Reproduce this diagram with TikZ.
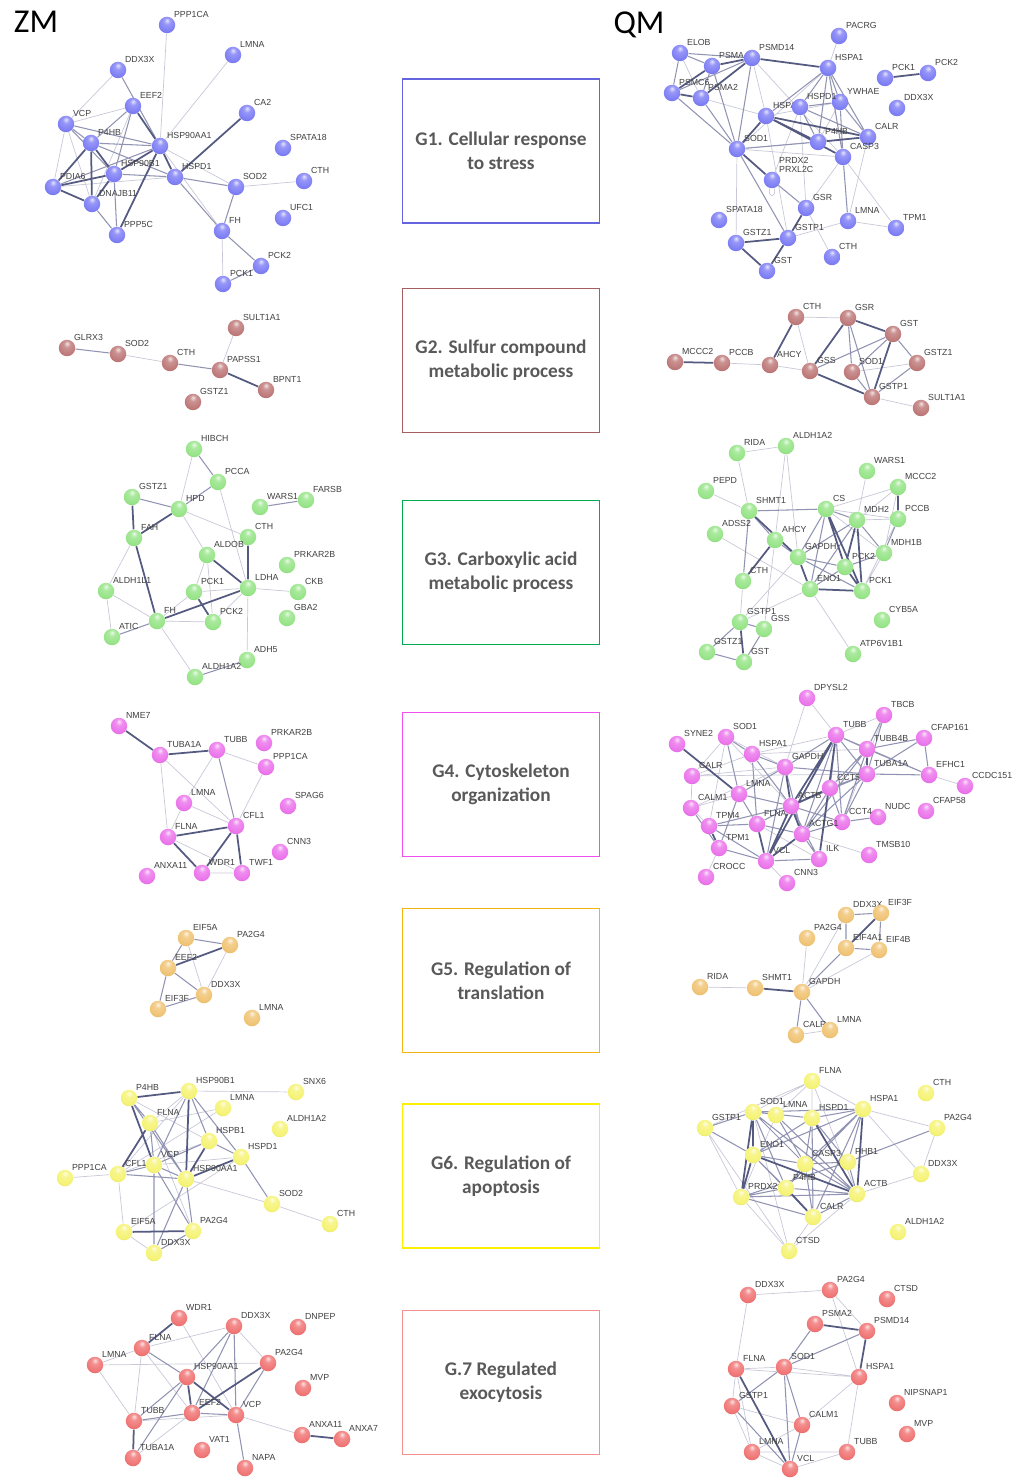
\documentclass[tikz,border=0pt]{standalone}
\usepackage{fontspec}
\newfontfamily\labfont{Liberation Sans}
\newfontfamily\boxfont{Carlito}
\usetikzlibrary{positioning}
\definecolor{c1}{RGB}{125,125,245}
\definecolor{c2}{RGB}{190,120,120}
\definecolor{c3}{RGB}{150,228,135}
\definecolor{c4}{RGB}{235,115,235}
\definecolor{c5}{RGB}{240,195,115}
\definecolor{c6}{RGB}{245,243,115}
\definecolor{c7}{RGB}{240,115,115}
\definecolor{f1}{RGB}{100,100,225}
\definecolor{f2}{RGB}{165,95,95}
\definecolor{f3}{RGB}{0,170,80}
\definecolor{f4}{RGB}{240,80,240}
\definecolor{f5}{RGB}{240,180,20}
\definecolor{f6}{RGB}{250,240,0}
\definecolor{f7}{RGB}{245,145,145}
\definecolor{elight}{RGB}{200,200,216}
\definecolor{emid}{RGB}{145,147,178}
\definecolor{edark}{RGB}{85,90,128}
\definecolor{boxtext}{RGB}{89,89,89}
\makeatletter
\pgfdeclareradialshading[tikz@ball]{sball}{\pgfqpoint{0bp}{14bp}}{%
	color(0bp)=(tikz@ball!20!white);
	color(10bp)=(tikz@ball!80!white);
	color(28bp)=(tikz@ball);
	color(50bp)=(tikz@ball!70!black);
	color(70bp)=(tikz@ball!50!black)}
\makeatother
\pgfdeclarelayer{edges}
\pgfsetlayers{edges,main}

\begin{document}
\begin{tikzpicture}[x=0.02cm, y=-0.02cm,
	ball/.style={circle, minimum size=0.33cm, inner sep=0pt},
	b1/.style={ball, ball color=c1, shading=sball},
	b2/.style={ball, ball color=c2, shading=sball},
	b3/.style={ball, ball color=c3, shading=sball},
	b4/.style={ball, ball color=c4, shading=sball},
	b5/.style={ball, ball color=c5, shading=sball},
	b6/.style={ball, ball color=c6, shading=sball},
	b7/.style={ball, ball color=c7, shading=sball},
	lbl/.style={font=\labfont\fontsize{5}{5.5}\selectfont, text=black!75, inner sep=0.4pt, align=left},
	lab/.style={label={[lbl]45:#1}},
	el/.style={draw=elight, line width=0.4pt},
	em/.style={draw=emid, line width=0.6pt},
	ed/.style={draw=edark, line width=1pt},
	gbox/.style={draw, line width=0.9pt, minimum width=3.94cm, minimum height=2.88cm, align=center, text=boxtext, font=\boxfont\bfseries\fontsize{11}{13.5}\selectfont},
	side/.style={font=\boxfont\fontsize{19}{22}\selectfont, inner sep=0pt}]
	\useasboundingbox (0,0) rectangle (1016,1479);
	% Titles and boxes:
	\node[side] (ZM) at (36,22) {ZM};
	\node[side] (QM) at (639,25) {QM};
	\node[gbox, draw=f1] (G1) at (501,151) {G1. Cellular response\\to stress};
	\node[gbox, draw=f2] (G2) at (501,360.5) {G2. Sulfur compound\\metabolic process};
	\node[gbox, draw=f3] (G3) at (501,572.5) {G3. Carboxylic acid\\metabolic process};
	\node[gbox, draw=f4] (G4) at (501,784.5) {G4. Cytoskeleton\\organization};
	\node[gbox, draw=f5] (G5) at (501,980.5) {G5. Regulation of\\translation};
	\node[gbox, draw=f6] (G6) at (501,1176) {G6. Regulation of\\apoptosis};
	\node[gbox, draw=f7] (G7) at (501,1382.5) {G.7 Regulated\\exocytosis};

	% ZM, G1:
	\node[b1, lab=PPP1CA] (z1-PPP1CA) at (167,25) {};
	\node[b1, lab=LMNA] (z1-LMNA) at (233,55) {};
	\node[b1, lab=DDX3X] (z1-DDX3X) at (118,70) {};
	\node[b1, lab=EEF2] (z1-EEF2) at (133,106) {};
	\node[b1, lab=VCP] (z1-VCP) at (66,124) {};
	\node[b1, lab=CA2] (z1-CA2) at (247,113) {};
	\node[b1, lab=P4HB] (z1-P4HB) at (91,143) {};
	\node[b1, lab=HSP90AA1] (z1-HSP90AA1) at (160,146) {};
	\node[b1, lab=SPATA18] (z1-SPATA18) at (283,148) {};
	\node[b1, lab=HSP90B1] (z1-HSP90B1) at (114,174) {};
	\node[b1, lab=HSPD1] (z1-HSPD1) at (175,177) {};
	\node[b1, lab=PDIA6] (z1-PDIA6) at (53,187) {};
	\node[b1, lab=SOD2] (z1-SOD2) at (236,187) {};
	\node[b1, lab=CTH] (z1-CTH) at (304,181) {};
	\node[b1, lab=DNAJB11] (z1-DNAJB11) at (92,204) {};
	\node[b1, lab=UFC1] (z1-UFC1) at (283,218) {};
	\node[b1, lab=PPP5C] (z1-PPP5C) at (117,235) {};
	\node[b1, lab=FH] (z1-FH) at (222,231) {};
	\node[b1, lab=PCK2] (z1-PCK2) at (261,266) {};
	\node[b1, lab=PCK1] (z1-PCK1) at (223,284) {};
	\begin{pgfonlayer}{edges}
		\draw[el] (z1-PPP1CA) -- (z1-HSP90AA1) (z1-LMNA) -- (z1-HSP90AA1) (z1-DDX3X) -- (z1-VCP) (z1-EEF2) -- (z1-VCP) (z1-EEF2) -- (z1-DNAJB11) (z1-VCP) -- (z1-DNAJB11) (z1-VCP) -- (z1-PDIA6) (z1-HSP90AA1) -- (z1-SOD2) (z1-PDIA6) -- (z1-HSPD1) (z1-SOD2) -- (z1-CTH) (z1-FH) -- (z1-PCK1) (z1-HSP90AA1) -- (z1-FH);
		\draw[em] (z1-DDX3X) -- (z1-HSP90AA1) (z1-EEF2) -- (z1-P4HB) (z1-EEF2) -- (z1-HSP90B1) (z1-VCP) -- (z1-P4HB) (z1-VCP) -- (z1-HSP90AA1) (z1-VCP) -- (z1-HSP90B1) (z1-P4HB) -- (z1-HSP90AA1) (z1-P4HB) -- (z1-HSPD1) (z1-HSP90B1) -- (z1-HSPD1) (z1-HSP90B1) -- (z1-PPP5C) (z1-DNAJB11) -- (z1-PPP5C) (z1-HSPD1) -- (z1-SOD2) (z1-SOD2) -- (z1-FH) (z1-FH) -- (z1-PCK2) (z1-PCK1) -- (z1-PCK2) (z1-HSP90AA1) -- (z1-PDIA6) (z1-HSPD1) -- (z1-FH);
		\draw[ed] (z1-EEF2) -- (z1-HSP90AA1) (z1-P4HB) -- (z1-PDIA6) (z1-P4HB) -- (z1-HSP90B1) (z1-P4HB) -- (z1-DNAJB11) (z1-HSP90AA1) -- (z1-HSP90B1) (z1-HSP90AA1) -- (z1-HSPD1) (z1-HSP90AA1) -- (z1-PPP5C) (z1-CA2) -- (z1-HSPD1) (z1-HSP90B1) -- (z1-PDIA6) (z1-HSP90B1) -- (z1-DNAJB11) (z1-PDIA6) -- (z1-DNAJB11);
	\end{pgfonlayer}

	% QM, G1:
	\node[b1, lab=PACRG] (q1-PACRG) at (839,36) {};
	\node[b1, lab=ELOB] (q1-ELOB) at (680,53) {};
	\node[b1, lab=PSMA4] (q1-PSMA4) at (712,66) {};
	\node[b1, lab=PSMD14] (q1-PSMD14) at (752,58) {};
	\node[b1, lab=HSPA1] (q1-HSPA1) at (828,68) {};
	\node[b1, lab=PCK1] (q1-PCK1) at (885,78) {};
	\node[b1, lab=PCK2] (q1-PCK2) at (928,73) {};
	\node[b1, lab=PSMC6] (q1-PSMC6) at (672,93) {};
	\node[b1, lab=PSMA2] (q1-PSMA2) at (701,98) {};
	\node[b1, lab=YWHAE] (q1-YWHAE) at (840,102) {};
	\node[b1, lab=HSPA8] (q1-HSPA8) at (766,116) {};
	\node[b1, lab=HSPD1] (q1-HSPD1) at (800,107) {};
	\node[b1, lab=DDX3X] (q1-DDX3X) at (897,108) {};
	\node[b1, lab=P4HB] (q1-P4HB) at (818,142) {};
	\node[b1, lab=CALR] (q1-CALR) at (868,137) {};
	\node[b1, lab=SOD1] (q1-SOD1) at (737,149) {};
	\node[b1, lab=CASP3] (q1-CASP3) at (843,157) {};
	\node[b1, lab={PRDX2\\PRXL2C}] (q1-PRDX2) at (772,180) {};
	\node[b1, lab=GSR] (q1-GSR) at (806,208) {};
	\node[b1, lab=SPATA18] (q1-SPATA18) at (719,220) {};
	\node[b1, lab=LMNA] (q1-LMNA) at (848,221) {};
	\node[b1, lab=TPM1] (q1-TPM1) at (896,228) {};
	\node[b1, lab=GSTZ1] (q1-GSTZ1) at (736,243) {};
	\node[b1, lab=GSTP1] (q1-GSTP1) at (788,238) {};
	\node[b1, lab=CTH] (q1-CTH) at (832,257) {};
	\node[b1, lab=GST] (q1-GST) at (767,271) {};
	\begin{pgfonlayer}{edges}
		\draw[el] (q1-PACRG) -- (q1-HSPA1) (q1-ELOB) -- (q1-PSMA2) (q1-PSMA2) -- (q1-HSPA8) (q1-PSMD14) -- (q1-CASP3) (q1-PSMD14) -- (q1-HSPA8) (q1-HSPA1) -- (q1-SOD1) (q1-YWHAE) -- (q1-HSPA8) (q1-HSPA8) -- (q1-GSTP1) (q1-SOD1) -- (q1-GSTZ1) (q1-CASP3) -- (q1-GSR) (q1-CALR) -- (q1-LMNA) (q1-CASP3) -- (q1-TPM1) (q1-GSR) -- (q1-CTH) (q1-GSTP1) -- (q1-LMNA) (q1-LMNA) -- (q1-TPM1) (q1-SOD1) -- (q1-CALR) (q1-HSPD1) -- (q1-GSR) (q1-YWHAE) -- (q1-P4HB) (q1-SOD1) -- (q1-CASP3) (q1-HSPD1) -- (q1-PRDX2);
		\draw[em] (q1-ELOB) -- (q1-PSMA4) (q1-ELOB) -- (q1-PSMD14) (q1-ELOB) -- (q1-PSMC6) (q1-PSMA4) -- (q1-PSMA2) (q1-PSMA4) -- (q1-SOD1) (q1-PSMD14) -- (q1-PSMC6) (q1-PSMD14) -- (q1-SOD1) (q1-PSMC6) -- (q1-SOD1) (q1-PSMA2) -- (q1-SOD1) (q1-HSPA1) -- (q1-HSPA8) (q1-HSPA1) -- (q1-HSPD1) (q1-HSPA1) -- (q1-P4HB) (q1-HSPA1) -- (q1-CASP3) (q1-HSPA1) -- (q1-CALR) (q1-HSPA1) -- (q1-YWHAE) (q1-HSPD1) -- (q1-P4HB) (q1-HSPD1) -- (q1-YWHAE) (q1-HSPD1) -- (q1-CALR) (q1-YWHAE) -- (q1-CASP3) (q1-YWHAE) -- (q1-CALR) (q1-CASP3) -- (q1-LMNA) (q1-SOD1) -- (q1-GSTP1) (q1-SOD1) -- (q1-P4HB) (q1-PRDX2) -- (q1-GSR);
		\draw[ed] (q1-PSMA4) -- (q1-PSMD14) (q1-PSMA4) -- (q1-PSMC6) (q1-PSMC6) -- (q1-PSMA2) (q1-PSMD14) -- (q1-PSMA2) (q1-PSMD14) -- (q1-HSPA1) (q1-HSPA8) -- (q1-SOD1) (q1-HSPA8) -- (q1-P4HB) (q1-HSPA8) -- (q1-CALR) (q1-HSPA8) -- (q1-CASP3) (q1-P4HB) -- (q1-CALR) (q1-SOD1) -- (q1-PRDX2) (q1-GSR) -- (q1-GSTP1) (q1-GSTP1) -- (q1-GSTZ1) (q1-GSTP1) -- (q1-GST) (q1-GSTZ1) -- (q1-GST) (q1-PCK1) -- (q1-PCK2);
		\draw[el] (q1-PRDX2) to[loop below, looseness=6] (q1-PRDX2);
	\end{pgfonlayer}

	% ZM, G2:
	\node[b2, lab=GLRX3] (z2-GLRX3) at (67,348) {};
	\node[b2, lab=SOD2] (z2-SOD2) at (118,354) {};
	\node[b2, lab=CTH] (z2-CTH) at (170,363) {};
	\node[b2, lab=SULT1A1] (z2-SULT1A1) at (236,328) {};
	\node[b2, lab=PAPSS1] (z2-PAPSS1) at (220,370) {};
	\node[b2, lab=BPNT1] (z2-BPNT1) at (266,390) {};
	\node[b2, lab=GSTZ1] (z2-GSTZ1) at (193,402) {};
	\begin{pgfonlayer}{edges}
		\draw[el] (z2-SOD2) -- (z2-CTH) (z2-PAPSS1) -- (z2-SULT1A1);
		\draw[em] (z2-GLRX3) -- (z2-SOD2) (z2-CTH) -- (z2-PAPSS1);
		\draw[ed] (z2-PAPSS1) -- (z2-BPNT1);
	\end{pgfonlayer}

	% QM, G2:
	\node[b2, lab=CTH] (q2-CTH) at (796,317) {};
	\node[b2, lab=GSR] (q2-GSR) at (848,318) {};
	\node[b2, lab=GST] (q2-GST) at (893,334) {};
	\node[b2, lab=MCCC2] (q2-MCCC2) at (675,362) {};
	\node[b2, lab=PCCB] (q2-PCCB) at (722,363) {};
	\node[b2, lab=AHCY] (q2-AHCY) at (770,365) {};
	\node[b2, lab=GSS] (q2-GSS) at (810,371) {};
	\node[b2, lab=SOD1] (q2-SOD1) at (852,372) {};
	\node[b2, lab=GSTZ1] (q2-GSTZ1) at (917,363) {};
	\node[b2, lab=GSTP1] (q2-GSTP1) at (872,397) {};
	\node[b2, lab=SULT1A1] (q2-SULT1A1) at (921,408) {};
	\begin{pgfonlayer}{edges}
		\draw[el] (q2-PCCB) -- (q2-AHCY) (q2-AHCY) -- (q2-GSS) (q2-CTH) -- (q2-GSR) (q2-CTH) -- (q2-GSS) (q2-SOD1) -- (q2-GSTZ1) (q2-GSTP1) -- (q2-SULT1A1);
		\draw[em] (q2-GSR) -- (q2-SOD1) (q2-GSR) -- (q2-GSTP1) (q2-GST) -- (q2-GSS) (q2-GST) -- (q2-GSTZ1) (q2-SOD1) -- (q2-GSTP1) (q2-GSTZ1) -- (q2-GSTP1) (q2-GST) -- (q2-SOD1);
		\draw[ed] (q2-MCCC2) -- (q2-PCCB) (q2-AHCY) -- (q2-CTH) (q2-GSR) -- (q2-GSS) (q2-GSR) -- (q2-GST) (q2-GST) -- (q2-GSTP1) (q2-GSS) -- (q2-GSTP1);
	\end{pgfonlayer}

	% ZM, G3:
	\node[b3, lab=HIBCH] (z3-HIBCH) at (194,449) {};
	\node[b3, lab=PCCA] (z3-PCCA) at (218,482) {};
	\node[b3, lab=GSTZ1] (z3-GSTZ1) at (132,497) {};
	\node[b3, lab=HPD] (z3-HPD) at (179,509) {};
	\node[b3, lab=WARS1] (z3-WARS1) at (260,507) {};
	\node[b3, lab=FARSB] (z3-FARSB) at (306,500) {};
	\node[b3, lab=FAH] (z3-FAH) at (134,538) {};
	\node[b3, lab=CTH] (z3-CTH) at (248,537) {};
	\node[b3, lab=ALDOB] (z3-ALDOB) at (207,555) {};
	\node[b3, lab=PRKAR2B] (z3-PRKAR2B) at (287,565) {};
	\node[b3, lab=ALDH1L1] (z3-ALDH1L1) at (106,591) {};
	\node[b3, lab=PCK1] (z3-PCK1) at (194,592) {};
	\node[b3, lab=LDHA] (z3-LDHA) at (248,588) {};
	\node[b3, lab=CKB] (z3-CKB) at (298,592) {};
	\node[b3, lab=FH] (z3-FH) at (157,621) {};
	\node[b3, lab=PCK2] (z3-PCK2) at (213,622) {};
	\node[b3, lab=GBA2] (z3-GBA2) at (287,618) {};
	\node[b3, lab=ATIC] (z3-ATIC) at (112,637) {};
	\node[b3, lab=ADH5] (z3-ADH5) at (247,660) {};
	\node[b3, lab=ALDH1A2] (z3-ALDH1A2) at (195,677) {};
	\begin{pgfonlayer}{edges}
		\draw[el] (z3-HIBCH) -- (z3-HPD) (z3-PCCA) -- (z3-LDHA) (z3-HPD) -- (z3-CTH) (z3-HPD) -- (z3-ALDOB) (z3-FAH) -- (z3-ALDH1L1) (z3-ALDOB) -- (z3-PCK1) (z3-ALDOB) -- (z3-PCK2) (z3-ALDH1L1) -- (z3-ATIC) (z3-ALDH1L1) -- (z3-FH) (z3-LDHA) -- (z3-PCK2) (z3-LDHA) -- (z3-CKB) (z3-LDHA) -- (z3-ADH5) (z3-FH) -- (z3-PCK2) (z3-FH) -- (z3-ALDH1A2) (z3-FH) -- (z3-PCK1) (z3-PCK1) -- (z3-LDHA);
		\draw[em] (z3-HIBCH) -- (z3-PCCA) (z3-PCCA) -- (z3-HPD) (z3-GSTZ1) -- (z3-HPD) (z3-WARS1) -- (z3-FARSB) (z3-FH) -- (z3-ATIC) (z3-ADH5) -- (z3-ALDH1A2);
		\draw[ed] (z3-GSTZ1) -- (z3-FAH) (z3-HPD) -- (z3-FAH) (z3-FAH) -- (z3-FH) (z3-CTH) -- (z3-LDHA) (z3-ALDOB) -- (z3-LDHA) (z3-PCK1) -- (z3-PCK2) (z3-LDHA) -- (z3-FH);
	\end{pgfonlayer}

	% QM, G3:
	\node[b3, lab=RIDA] (q3-RIDA) at (737,453) {};
	\node[b3, lab=ALDH1A2] (q3-ALDH1A2) at (786,446) {};
	\node[b3, lab=WARS1] (q3-WARS1) at (867,471) {};
	\node[b3, lab=PEPD] (q3-PEPD) at (706,491) {};
	\node[b3, lab=MCCC2] (q3-MCCC2) at (898,487) {};
	\node[b3, lab=SHMT1] (q3-SHMT1) at (749,511) {};
	\node[b3, lab=CS] (q3-CS) at (826,509) {};
	\node[b3, lab=MDH2] (q3-MDH2) at (857,520) {};
	\node[b3, lab=PCCB] (q3-PCCB) at (898,519) {};
	\node[b3, lab=ADSS2] (q3-ADSS2) at (715,534) {};
	\node[b3, lab=AHCY] (q3-AHCY) at (775,540) {};
	\node[b3, lab=GAPDH] (q3-GAPDH) at (798,557) {};
	\node[b3, lab=MDH1B] (q3-MDH1B) at (884,553) {};
	\node[b3, lab=PCK2] (q3-PCK2) at (845,567) {};
	\node[b3, lab=CTH] (q3-CTH) at (743,581) {};
	\node[b3, lab=ENO1] (q3-ENO1) at (810,589) {};
	\node[b3, lab=PCK1] (q3-PCK1) at (862,591) {};
	\node[b3, lab=CYB5A] (q3-CYB5A) at (882,620) {};
	\node[b3, lab=GSTP1] (q3-GSTP1) at (740,622) {};
	\node[b3, lab=GSS] (q3-GSS) at (764,629) {};
	\node[b3, lab=ATP6V1B1] (q3-ATP6V1B1) at (853,654) {};
	\node[b3, lab=GSTZ1] (q3-GSTZ1) at (707,652) {};
	\node[b3, lab=GST] (q3-GST) at (744,662) {};
	\begin{pgfonlayer}{edges}
		\draw[el] (q3-RIDA) -- (q3-ALDH1A2) (q3-RIDA) -- (q3-SHMT1) (q3-PEPD) -- (q3-SHMT1) (q3-ALDH1A2) -- (q3-AHCY) (q3-ALDH1A2) -- (q3-GAPDH) (q3-WARS1) -- (q3-MDH2) (q3-MCCC2) -- (q3-CS) (q3-MCCC2) -- (q3-MDH2) (q3-MCCC2) -- (q3-MDH1B) (q3-CS) -- (q3-PCCB) (q3-CS) -- (q3-MDH1B) (q3-MDH2) -- (q3-PCCB) (q3-PCCB) -- (q3-PCK1) (q3-ADSS2) -- (q3-ENO1) (q3-GAPDH) -- (q3-GSTP1) (q3-ENO1) -- (q3-ATP6V1B1) (q3-ENO1) -- (q3-GSTP1) (q3-CTH) -- (q3-GSTP1) (q3-AHCY) -- (q3-GSS) (q3-MDH1B) -- (q3-PCK1);
		\draw[em] (q3-SHMT1) -- (q3-CS) (q3-SHMT1) -- (q3-AHCY) (q3-SHMT1) -- (q3-CTH) (q3-CS) -- (q3-GAPDH) (q3-CS) -- (q3-ENO1) (q3-CS) -- (q3-MDH2) (q3-MDH2) -- (q3-GAPDH) (q3-MDH2) -- (q3-ENO1) (q3-MDH2) -- (q3-MDH1B) (q3-PCCB) -- (q3-MDH1B) (q3-AHCY) -- (q3-GAPDH) (q3-GAPDH) -- (q3-PCK2) (q3-GAPDH) -- (q3-PCK1) (q3-MDH1B) -- (q3-PCK2) (q3-PCK2) -- (q3-ENO1) (q3-GSTP1) -- (q3-GSS) (q3-GSTP1) -- (q3-GSTZ1) (q3-GSS) -- (q3-GST) (q3-GSTZ1) -- (q3-GST);
		\draw[ed] (q3-SHMT1) -- (q3-GAPDH) (q3-MCCC2) -- (q3-PCCB) (q3-CS) -- (q3-PCK2) (q3-CS) -- (q3-PCK1) (q3-MDH2) -- (q3-PCK2) (q3-MDH2) -- (q3-PCK1) (q3-AHCY) -- (q3-CTH) (q3-GAPDH) -- (q3-ENO1) (q3-PCK2) -- (q3-PCK1) (q3-ENO1) -- (q3-PCK1) (q3-GSTP1) -- (q3-GST);
	\end{pgfonlayer}

	% ZM, G4:
	\node[b4, lab=NME7] (z4-NME7) at (119,726) {};
	\node[b4, lab=TUBA1A] (z4-TUBA1A) at (160,755) {};
	\node[b4, lab=TUBB] (z4-TUBB) at (217,750) {};
	\node[b4, lab=PRKAR2B] (z4-PRKAR2B) at (264,743) {};
	\node[b4, lab=PPP1CA] (z4-PPP1CA) at (266,767) {};
	\node[b4, lab=LMNA] (z4-LMNA) at (184,803) {};
	\node[b4, lab=SPAG6] (z4-SPAG6) at (288,806) {};
	\node[b4, lab=CFL1] (z4-CFL1) at (236,826) {};
	\node[b4, lab=FLNA] (z4-FLNA) at (168,837) {};
	\node[b4, lab=CNN3] (z4-CNN3) at (280,852) {};
	\node[b4, lab=ANXA11] (z4-ANXA11) at (147,876) {};
	\node[b4, lab=WDR1] (z4-WDR1) at (202,873) {};
	\node[b4, lab=TWF1] (z4-TWF1) at (242,873) {};
	\begin{pgfonlayer}{edges}
		\draw[el] (z4-TUBA1A) -- (z4-CFL1) (z4-TUBA1A) -- (z4-FLNA) (z4-TUBB) -- (z4-PPP1CA) (z4-TUBB) -- (z4-LMNA) (z4-PPP1CA) -- (z4-CFL1) (z4-LMNA) -- (z4-FLNA) (z4-LMNA) -- (z4-CFL1) (z4-FLNA) -- (z4-TWF1) (z4-WDR1) -- (z4-TWF1);
		\draw[em] (z4-TUBB) -- (z4-CFL1);
		\draw[ed] (z4-NME7) -- (z4-TUBA1A) (z4-TUBA1A) -- (z4-TUBB) (z4-FLNA) -- (z4-CFL1) (z4-FLNA) -- (z4-WDR1) (z4-CFL1) -- (z4-WDR1) (z4-CFL1) -- (z4-TWF1);
	\end{pgfonlayer}

	% QM, G4:
	\node[b4, lab=DPYSL2] (q4-DPYSL2) at (807,698) {};
	\node[b4, lab=TBCB] (q4-TBCB) at (884,715) {};
	\node[b4, lab=SOD1] (q4-SOD1) at (726,737) {};
	\node[b4, lab=TUBB] (q4-TUBB) at (836,735) {};
	\node[b4, lab=CFAP161] (q4-CFAP161) at (924,738) {};
	\node[b4, lab=SYNE2] (q4-SYNE2) at (677,744) {};
	\node[b4, lab=HSPA1] (q4-HSPA1) at (752,754) {};
	\node[b4, lab=TUBB4B] (q4-TUBB4B) at (867,749) {};
	\node[b4, lab=GAPDH] (q4-GAPDH) at (785,767) {};
	\node[b4, lab=CALR] (q4-CALR) at (692,776) {};
	\node[b4, lab=TUBA1A] (q4-TUBA1A) at (867,774) {};
	\node[b4, lab=EFHC1] (q4-EFHC1) at (929,775) {};
	\node[b4, lab=CCDC151] (q4-CCDC151) at (965,786) {};
	\node[b4, lab=CCT5] (q4-CCT5) at (830,788) {};
	\node[b4, lab=LMNA] (q4-LMNA) at (739,794) {};
	\node[b4, lab=ACTB] (q4-ACTB) at (791,806) {};
	\node[b4, lab=CALM1] (q4-CALM1) at (691,808) {};
	\node[b4, lab=CFAP58] (q4-CFAP58) at (926,811) {};
	\node[b4, lab=NUDC] (q4-NUDC) at (878,817) {};
	\node[b4, lab=CCT4] (q4-CCT4) at (842,822) {};
	\node[b4, lab=TPM4] (q4-TPM4) at (709,826) {};
	\node[b4, lab=FLNA] (q4-FLNA) at (757,824) {};
	\node[b4, lab=ACTG1] (q4-ACTG1) at (802,834) {};
	\node[b4, lab=TPM1] (q4-TPM1) at (719,848) {};
	\node[b4, lab=TMSB10] (q4-TMSB10) at (869,855) {};
	\node[b4, lab=ILK] (q4-ILK) at (819,859) {};
	\node[b4, lab=VCL] (q4-VCL) at (766,861) {};
	\node[b4, lab=CROCC] (q4-CROCC) at (706,877) {};
	\node[b4, lab=CNN3] (q4-CNN3) at (787,883) {};
	\begin{pgfonlayer}{edges}
		\draw[el] (q4-DPYSL2) -- (q4-GAPDH) (q4-DPYSL2) -- (q4-TUBB) (q4-TBCB) -- (q4-TUBB) (q4-SOD1) -- (q4-GAPDH) (q4-SOD1) -- (q4-CALR) (q4-SOD1) -- (q4-TPM4) (q4-SOD1) -- (q4-ACTB) (q4-TUBB) -- (q4-HSPA1) (q4-HSPA1) -- (q4-TUBB4B) (q4-CALR) -- (q4-TUBA1A) (q4-CALR) -- (q4-CALM1) (q4-EFHC1) -- (q4-CCDC151) (q4-LMNA) -- (q4-CALM1) (q4-CALM1) -- (q4-TPM4) (q4-CALM1) -- (q4-GAPDH) (q4-TPM1) -- (q4-CROCC) (q4-VCL) -- (q4-CNN3) (q4-ACTG1) -- (q4-TMSB10) (q4-FLNA) -- (q4-ILK) (q4-CCT5) -- (q4-ILK) (q4-TBCB) -- (q4-CCT4) (q4-GAPDH) -- (q4-CALR) (q4-HSPA1) -- (q4-CALR);
		\draw[em] (q4-SOD1) -- (q4-HSPA1) (q4-SOD1) -- (q4-LMNA) (q4-TUBB) -- (q4-TUBB4B) (q4-TUBB) -- (q4-TUBA1A) (q4-TUBB) -- (q4-CCT5) (q4-TUBB) -- (q4-ACTG1) (q4-TUBB) -- (q4-CCT4) (q4-TUBB) -- (q4-EFHC1) (q4-TUBB) -- (q4-GAPDH) (q4-TBCB) -- (q4-TUBB4B) (q4-TBCB) -- (q4-TUBA1A) (q4-CFAP161) -- (q4-TUBB4B) (q4-CFAP161) -- (q4-EFHC1) (q4-CFAP161) -- (q4-TUBA1A) (q4-HSPA1) -- (q4-GAPDH) (q4-HSPA1) -- (q4-ACTB) (q4-HSPA1) -- (q4-FLNA) (q4-TUBB4B) -- (q4-CCT5) (q4-TUBB4B) -- (q4-ACTG1) (q4-TUBB4B) -- (q4-CCT4) (q4-TUBB4B) -- (q4-EFHC1) (q4-GAPDH) -- (q4-LMNA) (q4-GAPDH) -- (q4-ACTG1) (q4-GAPDH) -- (q4-VCL) (q4-GAPDH) -- (q4-TUBA1A) (q4-TUBA1A) -- (q4-CCT5) (q4-TUBA1A) -- (q4-ACTB) (q4-TUBA1A) -- (q4-ACTG1) (q4-TUBA1A) -- (q4-CCT4) (q4-TUBA1A) -- (q4-EFHC1) (q4-CCT5) -- (q4-CCT4) (q4-CCT5) -- (q4-ACTG1) (q4-LMNA) -- (q4-ACTB) (q4-LMNA) -- (q4-FLNA) (q4-LMNA) -- (q4-TPM1) (q4-ACTB) -- (q4-FLNA) (q4-ACTB) -- (q4-ILK) (q4-ACTB) -- (q4-CCT4) (q4-ACTB) -- (q4-TPM4) (q4-CALM1) -- (q4-TPM1) (q4-NUDC) -- (q4-CCT4) (q4-CCT4) -- (q4-ACTG1) (q4-TPM4) -- (q4-FLNA) (q4-TPM4) -- (q4-VCL) (q4-FLNA) -- (q4-ACTG1) (q4-ACTG1) -- (q4-ILK) (q4-TPM1) -- (q4-VCL) (q4-VCL) -- (q4-ILK);
		\draw[ed] (q4-SYNE2) -- (q4-LMNA) (q4-TUBB) -- (q4-ACTB) (q4-TUBB) -- (q4-VCL) (q4-TUBB4B) -- (q4-TUBA1A) (q4-GAPDH) -- (q4-ACTB) (q4-CCT5) -- (q4-ACTB) (q4-ACTB) -- (q4-ACTG1) (q4-ACTB) -- (q4-VCL) (q4-TPM4) -- (q4-TPM1) (q4-FLNA) -- (q4-VCL) (q4-ACTG1) -- (q4-VCL) (q4-TUBB) -- (q4-ILK);
	\end{pgfonlayer}

	% ZM, G5:
	\node[b5, lab=EIF5A] (z5-EIF5A) at (186,938) {};
	\node[b5, lab=PA2G4] (z5-PA2G4) at (230,945) {};
	\node[b5, lab=EEF2] (z5-EEF2) at (168,968) {};
	\node[b5, lab=DDX3X] (z5-DDX3X) at (204,995) {};
	\node[b5, lab=EIF3F] (z5-EIF3F) at (158,1009) {};
	\node[b5, lab=LMNA] (z5-LMNA) at (252,1018) {};
	\begin{pgfonlayer}{edges}
		\draw[el] (z5-EIF5A) -- (z5-DDX3X) (z5-PA2G4) -- (z5-DDX3X);
		\draw[em] (z5-EIF5A) -- (z5-PA2G4) (z5-EIF5A) -- (z5-EEF2) (z5-EEF2) -- (z5-DDX3X) (z5-DDX3X) -- (z5-EIF3F) (z5-EEF2) -- (z5-EIF3F);
		\draw[ed] (z5-PA2G4) -- (z5-EEF2);
	\end{pgfonlayer}

	% QM, G5:
	\node[b5, lab=DDX3X] (q5-DDX3X) at (846,915) {};
	\node[b5, lab=EIF3F] (q5-EIF3F) at (881,913) {};
	\node[b5, lab=PA2G4] (q5-PA2G4) at (807,938) {};
	\node[b5, lab=EIF4A1] (q5-EIF4A1) at (846,948) {};
	\node[b5, lab=EIF4B] (q5-EIF4B) at (879,950) {};
	\node[b5, lab=RIDA] (q5-RIDA) at (700,987) {};
	\node[b5, lab=SHMT1] (q5-SHMT1) at (755,988) {};
	\node[b5, lab=GAPDH] (q5-GAPDH) at (802,992) {};
	\node[b5, lab=CALR] (q5-CALR) at (796,1035) {};
	\node[b5, lab=LMNA] (q5-LMNA) at (830,1030) {};
	\begin{pgfonlayer}{edges}
		\draw[el] (q5-PA2G4) -- (q5-GAPDH) (q5-DDX3X) -- (q5-GAPDH) (q5-EIF4B) -- (q5-GAPDH) (q5-RIDA) -- (q5-SHMT1) (q5-CALR) -- (q5-LMNA);
		\draw[em] (q5-DDX3X) -- (q5-EIF3F) (q5-DDX3X) -- (q5-EIF4A1) (q5-EIF3F) -- (q5-EIF4B) (q5-EIF4A1) -- (q5-EIF4B) (q5-EIF4A1) -- (q5-GAPDH) (q5-GAPDH) -- (q5-CALR) (q5-GAPDH) -- (q5-LMNA);
		\draw[ed] (q5-EIF3F) -- (q5-EIF4A1) (q5-SHMT1) -- (q5-GAPDH);
	\end{pgfonlayer}

	% ZM, G6:
	\node[b6, lab=P4HB] (z6-P4HB) at (129,1098) {};
	\node[b6, lab=HSP90B1] (z6-HSP90B1) at (189,1091) {};
	\node[b6, lab=SNX6] (z6-SNX6) at (296,1092) {};
	\node[b6, lab=LMNA] (z6-LMNA) at (223,1108) {};
	\node[b6, lab=FLNA] (z6-FLNA) at (150,1123) {};
	\node[b6, lab=ALDH1A2] (z6-ALDH1A2) at (280,1129) {};
	\node[b6, lab=HSPB1] (z6-HSPB1) at (209,1141) {};
	\node[b6, lab=HSPD1] (z6-HSPD1) at (241,1157) {};
	\node[b6, lab=VCP] (z6-VCP) at (154,1165) {};
	\node[b6, lab=CFL1] (z6-CFL1) at (118,1174) {};
	\node[b6, lab=PPP1CA] (z6-PPP1CA) at (65,1178) {};
	\node[b6, lab=HSP90AA1] (z6-HSP90AA1) at (186,1179) {};
	\node[b6, lab=SOD2] (z6-SOD2) at (272,1204) {};
	\node[b6, lab=CTH] (z6-CTH) at (330,1224) {};
	\node[b6, lab=EIF5A] (z6-EIF5A) at (124,1232) {};
	\node[b6, lab=PA2G4] (z6-PA2G4) at (193,1231) {};
	\node[b6, lab=DDX3X] (z6-DDX3X) at (154,1253) {};
	\begin{pgfonlayer}{edges}
		\draw[el] (z6-P4HB) -- (z6-HSPB1) (z6-HSP90B1) -- (z6-SNX6) (z6-HSP90B1) -- (z6-FLNA) (z6-HSP90B1) -- (z6-CFL1) (z6-LMNA) -- (z6-FLNA) (z6-LMNA) -- (z6-CFL1) (z6-HSPB1) -- (z6-CFL1) (z6-HSPD1) -- (z6-VCP) (z6-HSPD1) -- (z6-EIF5A) (z6-CFL1) -- (z6-PPP1CA) (z6-CFL1) -- (z6-EIF5A) (z6-HSP90AA1) -- (z6-SOD2) (z6-SOD2) -- (z6-CTH) (z6-EIF5A) -- (z6-DDX3X) (z6-FLNA) -- (z6-PA2G4);
		\draw[em] (z6-P4HB) -- (z6-FLNA) (z6-P4HB) -- (z6-HSP90AA1) (z6-HSP90B1) -- (z6-HSPB1) (z6-HSP90B1) -- (z6-HSPD1) (z6-HSP90B1) -- (z6-VCP) (z6-FLNA) -- (z6-VCP) (z6-FLNA) -- (z6-HSP90AA1) (z6-HSPB1) -- (z6-HSPD1) (z6-HSPB1) -- (z6-VCP) (z6-HSPD1) -- (z6-SOD2) (z6-VCP) -- (z6-HSP90AA1) (z6-VCP) -- (z6-CFL1) (z6-VCP) -- (z6-PA2G4) (z6-VCP) -- (z6-DDX3X) (z6-CFL1) -- (z6-HSP90AA1) (z6-HSP90AA1) -- (z6-DDX3X) (z6-HSP90AA1) -- (z6-PA2G4) (z6-PA2G4) -- (z6-DDX3X);
		\draw[ed] (z6-P4HB) -- (z6-HSP90B1) (z6-P4HB) -- (z6-VCP) (z6-HSP90B1) -- (z6-HSP90AA1) (z6-FLNA) -- (z6-CFL1) (z6-HSPB1) -- (z6-HSP90AA1) (z6-HSPD1) -- (z6-HSP90AA1) (z6-EIF5A) -- (z6-PA2G4);
	\end{pgfonlayer}

	% QM, G6:
	\node[b6, lab=FLNA] (q6-FLNA) at (812,1081) {};
	\node[b6, lab=CTH] (q6-CTH) at (926,1093) {};
	\node[b6, lab=HSPA1] (q6-HSPA1) at (863,1109) {};
	\node[b6, lab=SOD1] (q6-SOD1) at (753,1112) {};
	\node[b6, lab=LMNA] (q6-LMNA) at (776,1115) {};
	\node[b6, lab=HSPD1] (q6-HSPD1) at (812,1118) {};
	\node[b6, lab=GSTP1] (q6-GSTP1) at (705,1128) {};
	\node[b6, lab=PA2G4] (q6-PA2G4) at (937,1128) {};
	\node[b6, lab=ENO1] (q6-ENO1) at (753,1155) {};
	\node[b6, lab=CASP3] (q6-CASP3) at (805,1164) {};
	\node[b6, lab=PHB1] (q6-PHB1) at (848,1162) {};
	\node[b6, lab=DDX3X] (q6-DDX3X) at (921,1174) {};
	\node[b6, lab=P4HB] (q6-P4HB) at (786,1188) {};
	\node[b6, lab=ACTB] (q6-ACTB) at (857,1194) {};
	\node[b6, lab=PRDX2] (q6-PRDX2) at (741,1197) {};
	\node[b6, lab=CALR] (q6-CALR) at (813,1217) {};
	\node[b6, lab=ALDH1A2] (q6-ALDH1A2) at (898,1232) {};
	\node[b6, lab=CTSD] (q6-CTSD) at (789,1251) {};
	\begin{pgfonlayer}{edges}
		\draw[el] (q6-FLNA) -- (q6-GSTP1) (q6-FLNA) -- (q6-SOD1) (q6-FLNA) -- (q6-LMNA) (q6-FLNA) -- (q6-HSPD1) (q6-FLNA) -- (q6-HSPA1) (q6-FLNA) -- (q6-ACTB) (q6-HSPA1) -- (q6-DDX3X) (q6-PA2G4) -- (q6-DDX3X) (q6-PA2G4) -- (q6-HSPA1) (q6-DDX3X) -- (q6-ACTB) (q6-GSTP1) -- (q6-CTSD) (q6-GSTP1) -- (q6-PRDX2) (q6-PRDX2) -- (q6-CTSD) (q6-CALR) -- (q6-CTSD) (q6-ACTB) -- (q6-CTSD) (q6-LMNA) -- (q6-PRDX2) (q6-SOD1) -- (q6-CTSD);
		\draw[em] (q6-PA2G4) -- (q6-PHB1) (q6-SOD1) -- (q6-GSTP1) (q6-SOD1) -- (q6-CASP3) (q6-SOD1) -- (q6-ACTB) (q6-SOD1) -- (q6-HSPD1) (q6-SOD1) -- (q6-HSPA1) (q6-SOD1) -- (q6-P4HB) (q6-LMNA) -- (q6-ACTB) (q6-LMNA) -- (q6-CASP3) (q6-HSPD1) -- (q6-HSPA1) (q6-HSPD1) -- (q6-CASP3) (q6-HSPD1) -- (q6-PHB1) (q6-HSPD1) -- (q6-ENO1) (q6-HSPD1) -- (q6-CALR) (q6-HSPA1) -- (q6-PHB1) (q6-HSPA1) -- (q6-CASP3) (q6-HSPA1) -- (q6-ENO1) (q6-HSPA1) -- (q6-CALR) (q6-HSPA1) -- (q6-P4HB) (q6-GSTP1) -- (q6-ENO1) (q6-ENO1) -- (q6-P4HB) (q6-ENO1) -- (q6-CASP3) (q6-ENO1) -- (q6-CALR) (q6-CASP3) -- (q6-ACTB) (q6-CASP3) -- (q6-PHB1) (q6-CASP3) -- (q6-CALR) (q6-CASP3) -- (q6-P4HB) (q6-PHB1) -- (q6-ACTB) (q6-PHB1) -- (q6-PRDX2) (q6-P4HB) -- (q6-ACTB) (q6-P4HB) -- (q6-PRDX2) (q6-ACTB) -- (q6-CALR) (q6-ACTB) -- (q6-PRDX2) (q6-PRDX2) -- (q6-CALR);
		\draw[ed] (q6-SOD1) -- (q6-ENO1) (q6-SOD1) -- (q6-PRDX2) (q6-HSPD1) -- (q6-ACTB) (q6-HSPA1) -- (q6-ACTB) (q6-ENO1) -- (q6-ACTB) (q6-ENO1) -- (q6-PRDX2) (q6-P4HB) -- (q6-CALR);
	\end{pgfonlayer}

	% ZM, G7:
	\node[b7, lab=WDR1] (z7-WDR1) at (179,1318) {};
	\node[b7, lab=DDX3X] (z7-DDX3X) at (234,1326) {};
	\node[b7, lab=DNPEP] (z7-DNPEP) at (298,1327) {};
	\node[b7, lab=FLNA] (z7-FLNA) at (142,1348) {};
	\node[b7, lab=LMNA] (z7-LMNA) at (95,1365) {};
	\node[b7, lab=PA2G4] (z7-PA2G4) at (268,1363) {};
	\node[b7, lab=HSP90AA1] (z7-HSP90AA1) at (187,1377) {};
	\node[b7, lab=MVP] (z7-MVP) at (303,1388) {};
	\node[b7, lab=TUBB] (z7-TUBB) at (134,1421) {};
	\node[b7, lab=EEF2] (z7-EEF2) at (192,1413) {};
	\node[b7, lab=VCP] (z7-VCP) at (236,1415) {};
	\node[b7, lab=ANXA11] (z7-ANXA11) at (302,1435) {};
	\node[b7, lab=ANXA7] (z7-ANXA7) at (342,1439) {};
	\node[b7, lab=VAT1] (z7-VAT1) at (202,1450) {};
	\node[b7, lab=TUBA1A] (z7-TUBA1A) at (133,1458) {};
	\node[b7, lab=NAPA] (z7-NAPA) at (245,1468) {};
	\begin{pgfonlayer}{edges}
		\draw[el] (z7-WDR1) -- (z7-VCP) (z7-FLNA) -- (z7-LMNA) (z7-FLNA) -- (z7-DDX3X) (z7-FLNA) -- (z7-TUBB) (z7-FLNA) -- (z7-EEF2) (z7-LMNA) -- (z7-TUBB) (z7-LMNA) -- (z7-PA2G4) (z7-DDX3X) -- (z7-PA2G4) (z7-VCP) -- (z7-ANXA11) (z7-TUBB) -- (z7-VCP) (z7-EEF2) -- (z7-TUBA1A);
		\draw[em] (z7-FLNA) -- (z7-HSP90AA1) (z7-DDX3X) -- (z7-HSP90AA1) (z7-DDX3X) -- (z7-EEF2) (z7-DDX3X) -- (z7-VCP) (z7-PA2G4) -- (z7-VCP) (z7-HSP90AA1) -- (z7-TUBA1A) (z7-TUBB) -- (z7-EEF2) (z7-EEF2) -- (z7-VCP) (z7-VCP) -- (z7-NAPA) (z7-HSP90AA1) -- (z7-TUBB);
		\draw[ed] (z7-WDR1) -- (z7-FLNA) (z7-PA2G4) -- (z7-EEF2) (z7-HSP90AA1) -- (z7-EEF2) (z7-HSP90AA1) -- (z7-VCP) (z7-TUBB) -- (z7-TUBA1A) (z7-ANXA11) -- (z7-ANXA7);
	\end{pgfonlayer}

	% QM, G7:
	\node[b7, lab=DDX3X] (q7-DDX3X) at (748,1295) {};
	\node[b7, lab=PA2G4] (q7-PA2G4) at (830,1290) {};
	\node[b7, lab=CTSD] (q7-CTSD) at (887,1299) {};
	\node[b7, lab=PSMA2] (q7-PSMA2) at (815,1324) {};
	\node[b7, lab=PSMD14] (q7-PSMD14) at (867,1331) {};
	\node[b7, lab=FLNA] (q7-FLNA) at (736,1369) {};
	\node[b7, lab=SOD1] (q7-SOD1) at (784,1367) {};
	\node[b7, lab=HSPA1] (q7-HSPA1) at (859,1377) {};
	\node[b7, lab=NIPSNAP1] (q7-NIPSNAP1) at (897,1403) {};
	\node[b7, lab=GSTP1] (q7-GSTP1) at (732,1406) {};
	\node[b7, lab=CALM1] (q7-CALM1) at (802,1425) {};
	\node[b7, lab=MVP] (q7-MVP) at (907,1434) {};
	\node[b7, lab=LMNA] (q7-LMNA) at (752,1452) {};
	\node[b7, lab=TUBB] (q7-TUBB) at (847,1452) {};
	\node[b7, lab=VCL] (q7-VCL) at (790,1469) {};
	\begin{pgfonlayer}{edges}
		\draw[el] (q7-DDX3X) -- (q7-PA2G4) (q7-DDX3X) -- (q7-FLNA) (q7-PA2G4) -- (q7-HSPA1) (q7-PA2G4) -- (q7-PSMD14) (q7-FLNA) -- (q7-HSPA1) (q7-FLNA) -- (q7-SOD1) (q7-FLNA) -- (q7-GSTP1) (q7-FLNA) -- (q7-LMNA) (q7-SOD1) -- (q7-HSPA1) (q7-GSTP1) -- (q7-CALM1) (q7-GSTP1) -- (q7-LMNA) (q7-CALM1) -- (q7-LMNA) (q7-HSPA1) -- (q7-CALM1) (q7-HSPA1) -- (q7-TUBB) (q7-LMNA) -- (q7-TUBB) (q7-VCL) -- (q7-TUBB) (q7-LMNA) -- (q7-VCL);
		\draw[em] (q7-PSMA2) -- (q7-SOD1) (q7-PSMD14) -- (q7-SOD1) (q7-SOD1) -- (q7-GSTP1) (q7-SOD1) -- (q7-CALM1) (q7-SOD1) -- (q7-VCL) (q7-CALM1) -- (q7-VCL) (q7-GSTP1) -- (q7-VCL);
		\draw[ed] (q7-PSMA2) -- (q7-PSMD14) (q7-PSMD14) -- (q7-HSPA1) (q7-FLNA) -- (q7-VCL);
	\end{pgfonlayer}
\end{tikzpicture}
\end{document}
